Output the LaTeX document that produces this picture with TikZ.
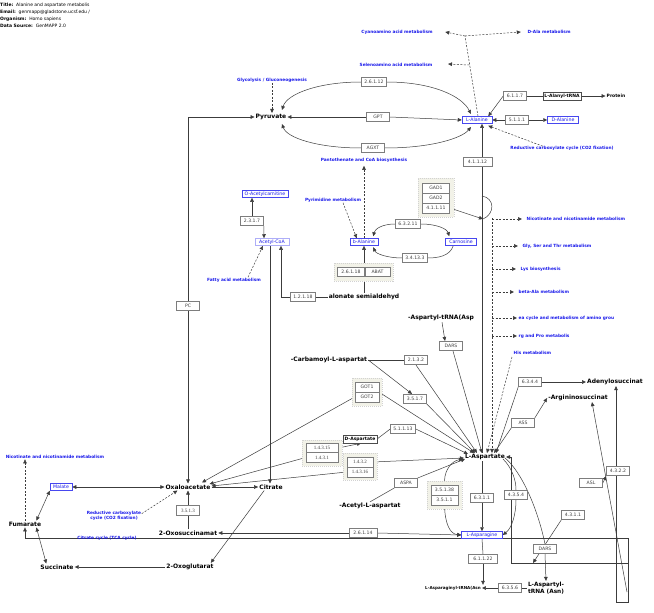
\documentclass[tikz,border=0pt]{standalone}
\usepackage{fontspec}
\setmainfont{DejaVu Sans}
\newfontfamily\gserif{Liberation Serif}
\usetikzlibrary{arrows.meta,calc}
\pgfdeclarelayer{bg}
\pgfsetlayers{bg,main}
\definecolor{pb}{RGB}{25,25,235}
\definecolor{lc}{RGB}{60,60,60}
\definecolor{gb}{RGB}{125,125,125}
\definecolor{grpfill}{RGB}{242,242,232}
\newcommand\fgene{\fontsize{4.6}{5.5}\selectfont}
\newcommand\fmet{\fontsize{6}{7.2}\selectfont\bfseries}
\newcommand\fpath{\fontsize{4.3}{5.2}\selectfont\bfseries}
\newcommand\fblue{\fontsize{4.7}{5.6}\selectfont}
\newcommand\fsmb{\fontsize{4.5}{5.4}\selectfont\bfseries}
\newcommand\fhead{\fontsize{4.5}{5.4}\selectfont}
\newcommand\ftinyb{\fontsize{4.1}{5}\selectfont\bfseries}
\begin{document}
\begin{tikzpicture}[x=1pt,y=-1pt,
  gene/.style={draw=gb, fill=white, font=\fgene, text=black!75, inner xsep=3pt, inner ysep=1pt, minimum height=9.5pt, minimum width=23pt, line width=0.6pt},
  sgene/.style={gene, font=\gserif\fontsize{5}{6}\selectfont},
  met/.style={font=\fmet, inner sep=1pt},
  bbox/.style={draw=pb!80, text=pb, font=\fblue, fill=white, inner xsep=2.5pt, inner ysep=0.8pt, minimum height=7pt, line width=0.5pt},
  kbox/.style={draw=black!70, fill=white, font=\fsmb, inner xsep=1.5pt, inner ysep=0.8pt, minimum height=8pt, line width=0.5pt},
  pw/.style={text=pb, font=\fpath, inner sep=0.5pt},
  grp/.style={draw=gray!35, dash pattern=on 1pt off 1pt, fill=grpfill, inner sep=0pt, line width=0.5pt},
  hd/.style={font=\fhead, inner sep=0pt, anchor=west},
  ln/.style={draw=lc, line width=0.5pt},
  ar/.style={ln, -{Triangle[length=4pt,width=3.6pt]}},
  ar2/.style={ln, {Triangle[length=4pt,width=3.6pt]}-{Triangle[length=4pt,width=3.6pt]}},
  da/.style={ln, dash pattern=on 2pt off 1.5pt, -{Triangle[length=4pt,width=3.6pt]}},
  dl/.style={ln, dash pattern=on 2pt off 1.5pt}]
\useasboundingbox (0,0) rectangle (654,613);

% header
\node[hd] (hd1) at (0,5.5) {\textbf{Title:}\ \ Alanine and aspartate metabolis};
\node[hd] (hd2) at (0,12.3) {\textbf{Email:}\ \ genmapp@gladstone.ucsf.edu /};
\node[hd] (hd3) at (0,19.2) {\textbf{Organism:}\ \ Homo sapiens};
\node[hd] (hd4) at (0,25.7) {\textbf{Data Source:}\ \ GenMAPP 2.0};

% metabolites
\node[met] (pyr) at (271,117) {Pyruvate};
\node[bbox, minimum width=30pt] (ala) at (477,120) {L-Alanine};
\node[bbox, minimum width=31pt] (dala) at (563,120) {D-Alanine};
\node[kbox] (alatrna) at (562,96) {L-Alanyl-tRNA};
\node[font=\fsmb, inner sep=1pt] (protein) at (616,96) {Protein};
\node[bbox] (oac) at (265,194) {O-Acetylcarnitine};
\node[bbox, draw=pb!35, minimum width=34pt] (acoa) at (272,242) {Acetyl-CoA};
\node[bbox, minimum width=28pt] (bala) at (364,242) {b-Alanine};
\node[bbox, minimum width=31pt] (carn) at (461,242) {Carnosine};
\node[met] (msa) at (364,297) {alonate semialdehyd};
\node[met] (asptrna) at (441,318) {-Aspartyl-tRNA(Asp};
\node[met] (carbasp) at (329,360) {-Carbamoyl-L-aspartat};
\node[kbox] (dasp) at (360,439) {D-Aspartate};
\node[met] (oxa) at (188,487) {Oxaloacetate};
\node[met] (cit) at (271,487) {Citrate};
\node[bbox, minimum width=22pt] (malate) at (61,487) {Malate};
\node[met] (fum) at (25,524) {Fumarate};
\node[met] (succ) at (57,567) {Succinate};
\node[met] (ogl) at (190,567) {2-Oxoglutarat};
\node[met] (osa) at (188,533) {2-Oxosuccinamat};
\node[met] (nacasp) at (370,506) {-Acetyl-L-aspartat};
\node[met] (asp) at (485,457) {L-Aspartate};
\node[bbox, minimum width=41pt] (asn) at (482,535) {L-Asparagine};
\node[font=\ftinyb, inner sep=1pt] (asntrna) at (453,588) {L-Asparaginyl-tRNA(Asn};
\node[met, align=center, font=\fontsize{5.8}{6.6}\selectfont\bfseries] (asptrnaasn) at (546,588) {L-Aspartyl-\\tRNA (Asn)};
\node[met] (adsucc) at (615,382) {Adenylosuccinat};
\node[met] (argsucc) at (578,398) {-Argininosuccinat};

% genes
\node[gene] (g26112) at (374,82) {2.6.1.12};
\node[gene] (gpt) at (378,117) {GPT};
\node[gene] (agxt) at (373,148) {AGXT};
\node[gene] (g6117) at (515,96) {6.1.1.7};
\node[gene] (g5111) at (517,120) {5.1.1.1};
\node[gene, minimum width=29pt] (g41112) at (477.5,162) {4.1.1.12};
\node[grp, minimum width=36pt, minimum height=39pt] (grpgad) at (436,197.5) {};
\node[gene, minimum width=27pt, minimum height=10pt] (gad1) at (436,188) {GAD1};
\node[gene, minimum width=27pt, minimum height=10pt] (gad2) at (436,198) {GAD2};
\node[gene, minimum width=27pt, minimum height=10pt] (g41111) at (436,208) {4.1.1.11};
\node[gene] (g63211) at (408,224) {6.3.2.11};
\node[gene] (g34133) at (415,258) {3.4.13.3};
\node[grp, minimum width=59pt, minimum height=18pt] (grpabat) at (363.5,272) {};
\node[gene, minimum width=27pt] (g26118) at (351,272) {2.6.1.18};
\node[gene, minimum width=25pt] (abat) at (377.5,272) {ABAT};
\node[gene] (g12118) at (303,297) {1.2.1.18};
\node[gene] (g2317) at (252,221) {2.3.1.7};
\node[gene] (pc) at (188,306) {PC};
\node[gene] (dars1) at (451,346) {DARS};
\node[gene] (g2132) at (416,360) {2.1.3.2};
\node[gene] (g3517) at (415,399) {3.5.1.7};
\node[grp, minimum width=30pt, minimum height=28pt] (grpgot) at (367,392) {};
\node[gene, minimum width=24pt, minimum height=10pt] (got1) at (367,387) {GOT1};
\node[gene, minimum width=24pt, minimum height=10pt] (got2) at (367,397) {GOT2};
\node[gene] (g51113) at (403,429) {5.1.1.13};
\node[grp, minimum width=40pt, minimum height=26pt] (grp14315) at (322,453) {};
\node[sgene, minimum width=32pt, minimum height=9.5pt] (g14315) at (322,448) {1.4.3.15};
\node[sgene, minimum width=32pt, minimum height=9.5pt] (g1431) at (322,457.5) {1.4.3.1};
\node[grp, minimum width=34pt, minimum height=27pt] (grp1432) at (360,466.5) {};
\node[sgene, minimum width=26pt, minimum height=10pt] (g1432) at (360,462) {1.4.3.2};
\node[sgene, minimum width=26pt, minimum height=10pt] (g14316) at (360,472) {1.4.3.16};
\node[gene] (g6344) at (530,382) {6.3.4.4};
\node[gene] (ass) at (523,423) {ASS};
\node[gene] (aspa) at (406,483) {ASPA};
\node[grp, minimum width=35pt, minimum height=28pt] (grp35138) at (444.5,495) {};
\node[gene, minimum width=27pt, minimum height=10pt] (g35138) at (444.5,490) {3.5.1.38};
\node[gene, minimum width=27pt, minimum height=10pt] (g3511) at (444.5,500) {3.5.1.1};
\node[gene] (g6311) at (482,498) {6.3.1.1};
\node[gene] (g4354) at (516,495) {4.3.5.4};
\node[gene] (g4311) at (573,515) {4.3.1.1};
\node[gene] (dars2) at (545,549) {DARS};
\node[gene] (g4322) at (618,471) {4.3.2.2};
\node[gene] (asl) at (591,483) {ASL};
\node[sgene] (g3513) at (188,510.5) {3.5.1.3};
\node[gene, minimum width=28pt] (g26114) at (363,533) {2.6.1.14};
\node[gene, minimum width=29pt] (g61122) at (483,559) {6.1.1.22};
\node[gene] (g6356) at (510,588) {6.3.5.6};

% pathway labels
\node[pw] (cyano) at (397,32) {Cyanoamino acid metabolism};
\node[pw] (dalam) at (549,32) {D-Ala metabolism};
\node[pw] (selen) at (396,65) {Selenoamino acid metabolism};
\node[pw] (glyc) at (272,80) {Glycolysis / Gluconeogenesis};
\node[pw] (panto) at (364,160) {Pantothenate and CoA biosynthesis};
\node[pw] (red1) at (562,148) {Reductive carboxylate cycle (CO2 fixation)};
\node[pw] (pyrim) at (333,200) {Pyrimidine metabolism};
\node[pw] (fatty) at (234,280) {Fatty acid metabolism};
\node[pw,anchor=west] (nic1) at (526,219) {Nicotinate and nicotinamide metabolism};
\node[pw,anchor=west] (glyser) at (522,246) {Gly, Ser and Thr metabolism};
\node[pw,anchor=west] (lys) at (520,269) {Lys biosynthesis};
\node[pw,anchor=west] (betaala) at (518,292) {beta-Ala metabolism};
\node[pw,anchor=west] (urea) at (518,318) {ea cycle and metabolism of amino grou};
\node[pw,anchor=west] (argpro) at (518,336) {rg and Pro metabolis};
\node[pw,anchor=west] (his) at (513,353) {His metabolism};
\node[pw] (nic2) at (55,457) {Nicotinate and nicotinamide metabolism};
\node[pw,align=center] (red2) at (114,516) {Reductive carboxylate\\cycle (CO2 fixation)};
\node[pw] (tca) at (107,538) {Citrate cycle (TCA cycle)};

% free coordinates
\coordinate (pctop) at (188,117);
\coordinate (cyj) at (465,36);
\coordinate (sej) at (469.3,65);
\coordinate (rdj) at (492,218);
\coordinate (gadA) at (482,196);
\coordinate (gadB) at (483,219);
\coordinate (rc1) at (511,457);
\coordinate (rc2) at (511,563);
\coordinate (rc3) at (628,563);
\coordinate (tip4311) at (533,563);
\coordinate (fl) at (25,538);
\coordinate (lr1) at (628,538);
\coordinate (lr2) at (628,602);
\coordinate (lr3) at (616,602);
\coordinate (lrd) at (627,592);

\begin{pgfonlayer}{bg}
\fill[white] (0,0) rectangle (654,613);
% Pyruvate <-> L-Alanine
\draw[ar] (g26112.west) .. controls (318,82) and (287,94) .. ($(pyr)+(11,-7)$);
\draw[ar] (g26112.east) .. controls (432,82) and (462,96) .. ($(ala)+(-6,-6)$);
\draw[ar] (gpt.west) -- (pyr.east);
\draw[ar] (gpt.east) -- (ala.west);
\draw[ar] (agxt.west) .. controls (318,148) and (287,138) .. ($(pyr)+(11,7)$);
\draw[ar] (agxt.east) .. controls (432,148) and (462,138) .. ($(ala)+(-6,7)$);
% PC
\draw[ln] (pctop) -- (pc.north);
\draw[ar] (pctop) -- (pyr.west);
\draw[ar] (pc.south) -- (oxa.north);
\draw[da] (glyc.south) -- (glyc.south |- pyr.north);
% top dashed
\draw[dl] ($(ala.north)+(1,0)$) -- (cyj);
\draw[da] (cyj) -- ($(cyano.east)+(12,0)$);
\draw[da] (cyj) -- ($(dalam.west)+(-6,0)$);
\draw[da] (sej) -- ($(selen.east)+(15,-1)$);
% alanine right side
\draw[ar] (g6117.west) -- ($(ala.north east)+(-4,0)$);
\draw[ln] (g6117.east) -- (alatrna.west);
\draw[ar] (alatrna.east) -- (protein.west);
\draw[ar] (g5111.west) -- (ala.east);
\draw[ar] (g5111.east) -- (dala.west);
\draw[da] ($(red1.north west)+(33,1)$) -- ($(ala.south east)+(-4,2)$);
% 4.1.1.12 column
\draw[ar] ($(g41112.north)+(4.5,0)$) -- ($(ala.south)+(5,0)$);
\draw[ln] ($(g41112.south)+(4.5,0)$) -- ($(asp.north)+(-3,0)$);
\draw[ln] (gadA) .. controls (495,198) and (495,214) .. (gadB);
\draw[ar] (g41111.east) -- (gadB);
% b-Alanine / Carnosine
\draw[ar] (g63211.west) .. controls (382,224) and (375,229) .. ($(bala.north east)+(-5,-2)$);
\draw[ar] (g63211.east) .. controls (437,224) and (447,229) .. ($(carn.north west)+(4,-2)$);
\draw[ln] ($(carn.south west)+(8,0)$) .. controls (450,256) and (438,258) .. (g34133.east);
\draw[ar] (g34133.west) .. controls (388,258) and (376,254) .. ($(bala.south east)+(-5,1.5)$);
\draw[da] (bala.north) -- ($(panto.south)+(0,3)$);
\draw[da] ($(pyrim.south)+(10,0)$) -- ($(bala.north west)+(7,0)$);
\draw[ar] (msa.north) -- (bala.south);
\draw[ln] (msa.west) -- (g12118.east);
\draw[ar] (g12118.west) -| ($(acoa.south)+(9,0)$);
% Acetyl-CoA
\draw[ar] ($(acoa.south)+(-2,0)$) -- ($(cit.north)+(-1,0)$);
\draw[ar] (g2317.north) -- (g2317.north |- oac.south);
\draw[ar] (g2317.south east) -- ($(acoa.north)+(-8,0)$);
\draw[da] ($(fatty.north)+(14,0)$) -- ($(acoa.south)+(-9,0)$);
% right dashed column
\draw[da] (rdj) -- ($(asp.north)+(7,0)$);
\draw[da] (rdj |- nic1.west) -- ($(nic1.west)+(-4,0)$);
\draw[da] (rdj |- glyser.west) -- ($(glyser.west)+(-4,0)$);
\draw[da] (rdj |- lys.west) -- ($(lys.west)+(-4,0)$);
\draw[da] (rdj |- betaala.west) -- ($(betaala.west)+(-4,0)$);
\draw[da] (rdj |- urea.west) -- ($(urea.west)+(-1,0)$);
\draw[da] (rdj |- argpro.west) -- ($(argpro.west)+(-1,0)$);
\draw[da] ($(his.west)+(-1,4)$) -- ($(asp.north)+(2,0)$);
% into L-Aspartate from above
\draw[ar] ($(asptrna.south)+(1,0)$) -- ($(dars1.north)+(-6,0)$);
\draw[ar] ($(dars1.south)+(2,0)$) -- ($(asp.north)+(-3,0)$);
\draw[ln] (carbasp.east) -- (g2132.west);
\draw[ar] (g2132.south) -- ($(asp.north)+(-8,0)$);
\draw[ar] (carbasp.east) -- ($(g3517.north)+(-3,0)$);
\draw[ar] (g3517.south east) -- ($(asp.north)+(-10,0)$);
\draw[ar] (got1.south east) -- ($(asp.north west)+(10,0)$);
\draw[ar] (got2.west) -- ($(oxa.north)+(14,-1)$);
\draw[ln] (dasp.east) -- (g51113.west);
\draw[ar] (g51113.east) -- ($(asp.west)+(4,-3)$);
\draw[ar] (g14315.east) -- ($(dasp.south)+(1,0)$);
\draw[ar] (g1431.west) -- ($(oxa.east)+(-2,-3)$);
\draw[ar] (g14316.west) -- ($(oxa.east)+(0,-1)$);
\draw[ar] (g1432.east) -- ($(asp.west)+(0,1)$);
\draw[ln] (aspa.south west) -- (nacasp.north);
\draw[ar] (aspa.north east) -- ($(asp.west)+(1,2)$);
\draw[ar] (g6344.east) -- (adsucc.west);
\draw[ar] (g6344.south west) -- ($(asp.north east)+(-10,0)$);
\draw[ar] (ass.north east) -- (argsucc.west);
\draw[ar] (ass.south west) -- ($(asp.north east)+(-12,0)$);
% L-Aspartate <-> L-Asparagine
\draw[ar] (grp35138.north) .. controls (445,469) and (452,461) .. ($(asp.west)+(-1,2)$);
\draw[ar] (g3511.south) .. controls (445,524) and (450,534) .. (asn.west);
\draw[ln] ($(asp.south)+(-3,0)$) -- (g6311.north);
\draw[ar] (g6311.south) -- (asn.north);
\draw[ln] ($(asp.east)+(-3,2)$) .. controls (512,468) and (516,480) .. (g4354.north);
\draw[ar] (g4354.south) .. controls (516,514) and (512,528) .. (asn.east);
\draw[ln] ($(asp.east)+(-1,1)$) .. controls (522,472) and (538,510) .. (dars2.north);
\draw[ar] (dars2.south) -- (asptrnaasn.north);
\draw[ar] (g4311.south west) -- (tip4311);
\draw[ar] (rc3) -- (rc2) -- (rc1) -- (asp.east);
% long line and right box
\draw[ar] (lr3) -- (lr2) -- (lr1) -- (fl) -- (fum.south);
\draw[ar] (lr3) -- ($(adsucc.south)+(1,0)$);
\draw[ar] (lrd) -- ($(argsucc.south)+(14,0)$);
\draw[ar] (asl.east) -- (g4322.south west);
% lower section
\draw[ar] (g26114.west) -- (osa.east);
\draw[ar] (g26114.east) -- (asn.west);
\draw[ln] (osa.north) -- (g3513.south);
\draw[ar] (g3513.north) -- (oxa.south);
\draw[da] ($(red2.north east)+(0,3)$) -- ($(oxa.south west)+(13,0)$);
\draw[ar2] (malate.east) -- (oxa.west);
\draw[ar2] ($(fum.north east)+(-6,0)$) -- (malate.south west);
\draw[ar2] ($(fum.south east)+(-6,0)$) -- ($(succ.north west)+(7,0)$);
\draw[da] (fum.north) -- (fum.north |- nic2.south);
\draw[ar] (oxa.east) -- (cit.west);
\draw[ar] ($(cit.south west)+(6,0)$) -- ($(ogl.north east)+(-4,0)$);
\draw[ar] (ogl.west) -- (succ.east);
\draw[ln] (asn.south) -- (g61122.north);
\draw[ar] (g61122.south) -- (g61122.south |- asntrna.north);
\draw[ar] (g6356.west) -- (asntrna.east);
\draw[ln] (asptrnaasn.west) -- (g6356.east);
\end{pgfonlayer}
\end{tikzpicture}
\end{document}
